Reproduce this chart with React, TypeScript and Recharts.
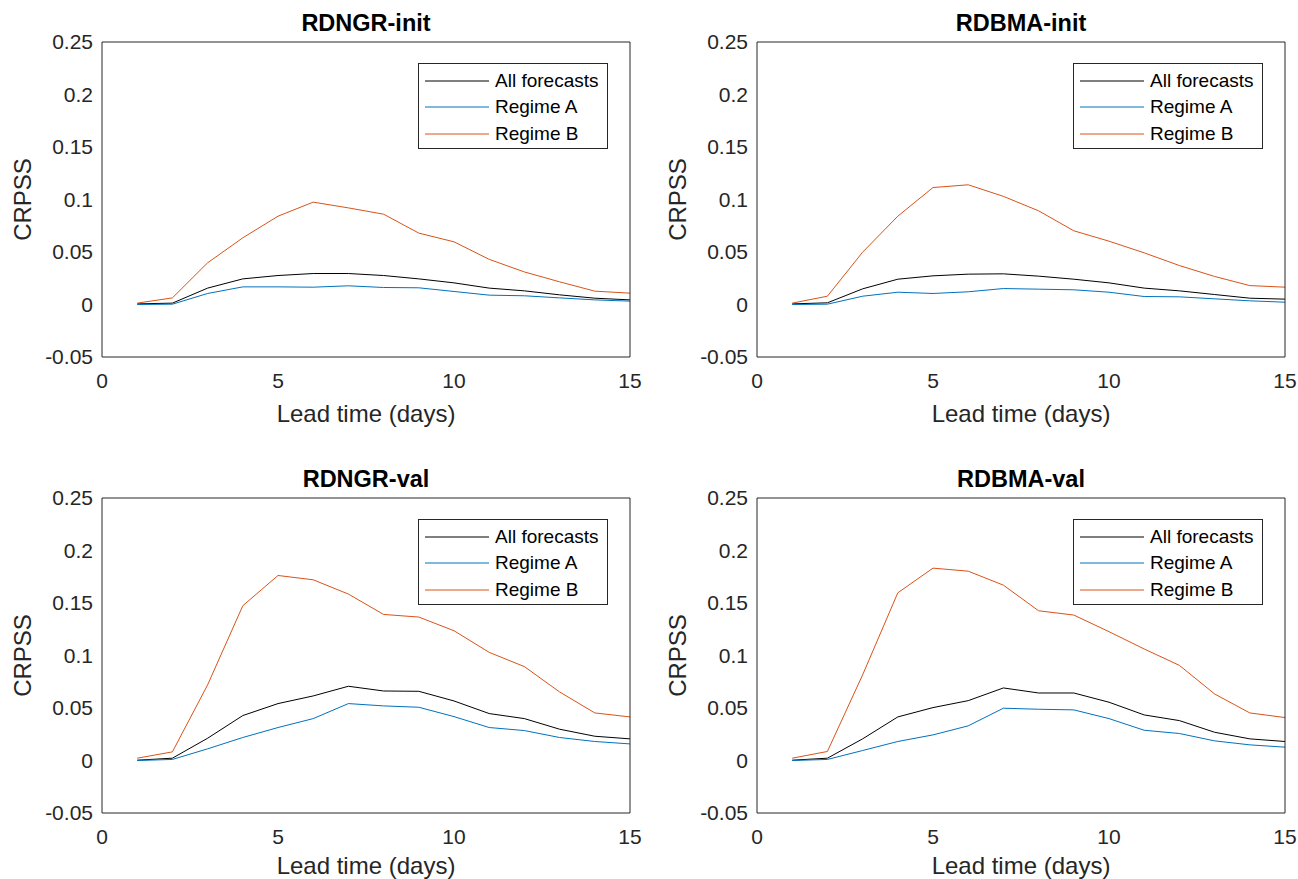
import React from 'react';
import { LineChart, Line, XAxis, YAxis, Legend } from 'recharts';

// Lead time in days and axis tick values
const leadDays = [1, 2, 3, 4, 5, 6, 7, 8, 9, 10, 11, 12, 13, 14, 15];
const xTicks = [0, 5, 10, 15];
const yTicks = [-0.05, 0, 0.05, 0.1, 0.15, 0.2, 0.25];

const seriesNames = ['All forecasts', 'Regime A', 'Regime B'];
const seriesColors = ['#000000', '#0072BD', '#D95319'];

// RDNGR-init
const rdngrInitAll = [0.0006, 0.0013, 0.0156, 0.0244, 0.0276, 0.0295, 0.0295, 0.0276, 0.0244, 0.0206, 0.0156, 0.013, 0.0092, 0.006, 0.0044];
const rdngrInitA = [0.0, 0.0003, 0.0105, 0.0168, 0.0168, 0.0165, 0.0178, 0.0162, 0.0159, 0.0124, 0.0089, 0.0083, 0.0063, 0.0044, 0.0032];
const rdngrInitB = [0.0013, 0.0063, 0.0397, 0.0635, 0.0841, 0.0975, 0.092, 0.086, 0.068, 0.0597, 0.043, 0.031, 0.0216, 0.0127, 0.0108];

// RDBMA-init
const rdbmaInitAll = [0.0006, 0.0016, 0.0149, 0.0241, 0.0273, 0.0289, 0.0292, 0.027, 0.0241, 0.0206, 0.0156, 0.013, 0.0095, 0.006, 0.0051];
const rdbmaInitA = [0.0, 0.0003, 0.0079, 0.0117, 0.0105, 0.0121, 0.0152, 0.0146, 0.014, 0.0117, 0.0076, 0.0073, 0.0054, 0.0035, 0.0022];
const rdbmaInitB = [0.0013, 0.0079, 0.0498, 0.0841, 0.1114, 0.114, 0.103, 0.0892, 0.0702, 0.0603, 0.0492, 0.0371, 0.0267, 0.018, 0.0165];

// RDNGR-val
const rdngrValAll = [0.0003, 0.0022, 0.0212, 0.0428, 0.0542, 0.0615, 0.0707, 0.0662, 0.0659, 0.0567, 0.0447, 0.0399, 0.0298, 0.0231, 0.0206];
const rdngrValA = [0.0, 0.001, 0.0111, 0.0219, 0.0314, 0.0399, 0.0542, 0.052, 0.0507, 0.0418, 0.0314, 0.0285, 0.0219, 0.0181, 0.0158];
const rdngrValB = [0.0022, 0.0082, 0.072, 0.1474, 0.1762, 0.1721, 0.1585, 0.1391, 0.1366, 0.1236, 0.103, 0.0894, 0.0653, 0.0453, 0.0415];

// RDBMA-val
const rdbmaValAll = [0.0003, 0.0022, 0.0206, 0.0415, 0.0504, 0.057, 0.0691, 0.0643, 0.0643, 0.0555, 0.0434, 0.038, 0.0269, 0.0206, 0.0181];
const rdbmaValA = [0.0, 0.001, 0.0095, 0.0181, 0.0244, 0.033, 0.0498, 0.0488, 0.0482, 0.0399, 0.0288, 0.0257, 0.0187, 0.0149, 0.0127];
const rdbmaValB = [0.0022, 0.0086, 0.0815, 0.1597, 0.1832, 0.1803, 0.167, 0.1426, 0.1385, 0.1227, 0.1062, 0.0906, 0.0634, 0.0453, 0.0409];

const FONT = '"Liberation Sans", Arial, Helvetica, sans-serif';
const AXIS_COLOR = '#262626';

const CHART_W = 650;
const PLOT_TOP = 42;
const AXIS_LEFT = 42;
const YAXIS_W = 60;
const XAXIS_H = 60;
const PLOT_W = 528;
const PLOT_H = 315;

type Panel = {
  title: string;
  all: number[];
  a: number[];
  b: number[];
  left: number;
  top: number;
  height: number;
  xLabelOffset: number;
};

const panels: Panel[] = [
  { title: 'RDNGR-init', all: rdngrInitAll, a: rdngrInitA, b: rdngrInitB, left: 0, top: 0, height: 440, xLabelOffset: 65 },
  { title: 'RDBMA-init', all: rdbmaInitAll, a: rdbmaInitA, b: rdbmaInitB, left: 655, top: 0, height: 440, xLabelOffset: 65 },
  { title: 'RDNGR-val', all: rdngrValAll, a: rdngrValA, b: rdngrValB, left: 0, top: 456, height: 423, xLabelOffset: 61 },
  { title: 'RDBMA-val', all: rdbmaValAll, a: rdbmaValA, b: rdbmaValB, left: 655, top: 456, height: 423, xLabelOffset: 61 },
];

const tickStyle = { fill: AXIS_COLOR, fontSize: 21, fontFamily: FONT };

const renderYLabel = (props: any) => {
  const vb = props && props.viewBox ? props.viewBox : { x: AXIS_LEFT, y: PLOT_TOP, width: YAXIS_W, height: PLOT_H };
  const plotLeft = vb.x + vb.width;
  const cy = vb.y + vb.height / 2;
  const bx = plotLeft - 71;
  return (
    <text
      x={bx}
      y={cy}
      transform={`rotate(-90, ${bx}, ${cy})`}
      textAnchor="middle"
      fill={AXIS_COLOR}
      fontSize={24}
      fontFamily={FONT}
    >
      CRPSS
    </text>
  );
};

const makeXLabel = (offset: number) => (props: any) => {
  const vb = props && props.viewBox ? props.viewBox : { x: AXIS_LEFT + YAXIS_W, y: PLOT_TOP + PLOT_H, width: PLOT_W, height: XAXIS_H };
  return (
    <text
      x={vb.x + vb.width / 2}
      y={vb.y + offset}
      textAnchor="middle"
      fill={AXIS_COLOR}
      fontSize={24}
      fontFamily={FONT}
    >
      Lead time (days)
    </text>
  );
};

const renderLegend = (props: any) => {
  const items = (props && props.payload) || [];
  return (
    <div
      style={{
        width: 190,
        height: 86,
        boxSizing: 'border-box',
        border: `1px solid ${AXIS_COLOR}`,
        background: '#ffffff',
        paddingTop: 3.5,
        fontFamily: FONT,
      }}
    >
      {items.map((item: any) => (
        <div key={item.value} style={{ height: 26.5, display: 'flex', alignItems: 'center' }}>
          <svg width={76} height={4} style={{ display: 'block', flex: 'none' }}>
            <line x1={6} x2={70} y1={2} y2={2} stroke={item.color} strokeWidth={1} />
          </svg>
          <span style={{ fontSize: 19, color: '#000', whiteSpace: 'nowrap', lineHeight: 'normal' }}>{item.value}</span>
        </div>
      ))}
    </div>
  );
};

function CrpssPanel({ panel }: { panel: Panel }) {
  const rows = leadDays.map((day, i) => ({
    day,
    all: panel.all[i],
    a: panel.a[i],
    b: panel.b[i],
  }));
  const marginBottom = panel.height - PLOT_TOP - PLOT_H - XAXIS_H;
  const marginRight = CHART_W - AXIS_LEFT - YAXIS_W - PLOT_W;
  const keys = ['all', 'a', 'b'];

  return (
    <div style={{ position: 'absolute', left: panel.left, top: panel.top, width: CHART_W, height: panel.height }}>
      <LineChart
        width={CHART_W}
        height={panel.height}
        data={rows}
        margin={{ top: PLOT_TOP, right: marginRight, bottom: marginBottom, left: AXIS_LEFT }}
      >
        {/* labelled axes */}
        <XAxis
          xAxisId="main"
          type="number"
          dataKey="day"
          domain={[0, 15]}
          ticks={xTicks}
          interval={0}
          allowDataOverflow
          height={XAXIS_H}
          tickSize={0}
          tickLine={false}
          axisLine={false}
          tickMargin={16}
          tick={tickStyle}
          label={makeXLabel(panel.xLabelOffset)}
        />
        <YAxis
          yAxisId="main"
          type="number"
          domain={[-0.05, 0.25]}
          ticks={yTicks}
          interval={0}
          allowDataOverflow
          width={YAXIS_W}
          tickSize={0}
          tickLine={false}
          axisLine={false}
          tickMargin={9}
          tick={tickStyle}
          tickFormatter={(v: number) => String(v)}
          label={renderYLabel}
        />
        {/* box with inward tick marks on all four sides */}
        <XAxis
          xAxisId="boxBottom"
          orientation="bottom"
          mirror
          type="number"
          dataKey="day"
          domain={[0, 15]}
          ticks={xTicks}
          interval={0}
          allowDataOverflow
          tick={false}
          tickSize={5}
          stroke={AXIS_COLOR}
        />
        <XAxis
          xAxisId="boxTop"
          orientation="top"
          mirror
          type="number"
          dataKey="day"
          domain={[0, 15]}
          ticks={xTicks}
          interval={0}
          allowDataOverflow
          tick={false}
          tickSize={5}
          stroke={AXIS_COLOR}
        />
        <YAxis
          yAxisId="boxLeft"
          orientation="left"
          mirror
          type="number"
          domain={[-0.05, 0.25]}
          ticks={yTicks}
          interval={0}
          allowDataOverflow
          tick={false}
          tickSize={5}
          stroke={AXIS_COLOR}
        />
        <YAxis
          yAxisId="boxRight"
          orientation="right"
          mirror
          type="number"
          domain={[-0.05, 0.25]}
          ticks={yTicks}
          interval={0}
          allowDataOverflow
          tick={false}
          tickSize={5}
          stroke={AXIS_COLOR}
        />
        <Legend
          layout="horizontal"
          verticalAlign="middle"
          align="center"
          content={renderLegend}
          wrapperStyle={{ left: 418, top: 63, width: 190, height: 86 }}
        />
        {keys.map((k, i) => (
          <Line
            key={k}
            xAxisId="main"
            yAxisId="main"
            type="linear"
            dataKey={k}
            name={seriesNames[i]}
            stroke={seriesColors[i]}
            strokeWidth={1}
            dot={false}
            activeDot={false}
            isAnimationActive={false}
          />
        ))}
      </LineChart>
      <div
        style={{
          position: 'absolute',
          left: AXIS_LEFT + YAXIS_W,
          width: PLOT_W,
          top: PLOT_TOP - 32,
          textAlign: 'center',
          fontFamily: FONT,
          fontSize: 23.5,
          fontWeight: 'bold',
          lineHeight: 'normal',
          color: '#000',
        }}
      >
        {panel.title}
      </div>
    </div>
  );
}

export default function App() {
  return (
    <div
      style={{
        position: 'absolute',
        left: 0,
        top: 0,
        width: 1298,
        height: 879,
        overflow: 'hidden',
        background: '#ffffff',
      }}
    >
      {panels.map((p) => (
        <CrpssPanel key={p.title} panel={p} />
      ))}
    </div>
  );
}
